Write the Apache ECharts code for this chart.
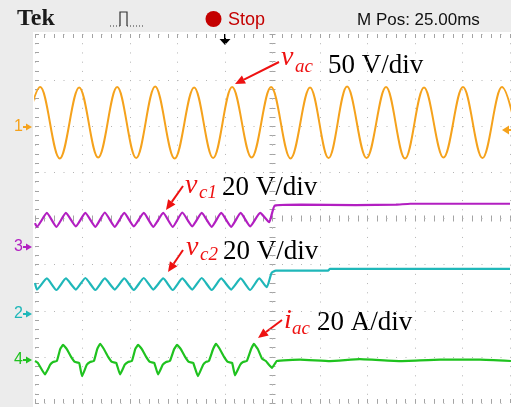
<!DOCTYPE html>
<html>
<head>
<meta charset="utf-8">
<title>Tek capture</title>
<script src="https://cdn.jsdelivr.net/npm/echarts@6/dist/echarts.min.js"></script>
<style>
  html, body { margin: 0; padding: 0; background: #fff; }
  #chart { width: 511px; height: 407px; }
</style>
</head>
<body>
<div id="chart"></div>
<script>
// all values are screen divisions: time from screen centre (-5..5), level from centre (-4..4)

// ch1, v_ac (orange): troughs and peaks
const vacT = [-5.30, -4.89, -4.48, -4.07, -3.67, -3.27, -2.87, -2.47, -2.06, -1.65, -1.25, -0.85, -0.44,
              -0.03, 0.38, 0.79, 1.18, 1.57, 1.98, 2.39, 2.79, 3.19, 3.60, 4.01, 4.42, 4.83, 5.24];
const vacV = [1.31, 2.85, 1.30, 2.84, 1.32, 2.85, 1.31, 2.86, 1.30, 2.84, 1.31, 2.85, 1.32,
              2.85, 1.30, 2.84, 1.31, 2.86, 1.31, 2.85, 1.30, 2.84, 1.32, 2.85, 1.31, 2.85, 1.31];

// ch3, v_c1 (magenta): ripple, then the step at the centre
const vc1T = [-5.00, -4.96, -4.75, -4.55, -4.35, -4.14, -3.94, -3.73, -3.53, -3.32, -3.12, -2.92, -2.71,
              -2.51, -2.30, -2.10, -1.90, -1.69, -1.49, -1.28, -1.08, -0.87, -0.67, -0.47, -0.26, -0.07,
              0.05, 0.60, 1.75, 2.60, 2.90, 5.00];
const vc1V = [-0.10, -0.18, 0.12, -0.18, 0.12, -0.17, 0.12, -0.18, 0.13, -0.18, 0.12, -0.17, 0.12,
              -0.18, 0.12, -0.18, 0.13, -0.17, 0.12, -0.18, 0.12, -0.18, 0.12, -0.17, 0.12, -0.08,
              0.28, 0.30, 0.29, 0.30, 0.32, 0.32];

// ch2, v_c2 (cyan)
const vc2T = [-5.00, -4.96, -4.75, -4.55, -4.35, -4.14, -3.94, -3.73, -3.53, -3.32, -3.12, -2.92, -2.71,
              -2.51, -2.30, -2.10, -1.90, -1.69, -1.49, -1.28, -1.08, -0.87, -0.67, -0.47, -0.28, -0.12,
              -0.02, 0.07, 1.17, 1.21, 5.00];
const vc2V = [-1.40, -1.54, -1.30, -1.55, -1.30, -1.54, -1.29, -1.55, -1.30, -1.54, -1.30, -1.55, -1.29,
              -1.54, -1.30, -1.55, -1.30, -1.54, -1.29, -1.55, -1.30, -1.54, -1.30, -1.55, -1.30, -1.49,
              -1.18, -1.13, -1.13, -1.09, -1.09];

// ch4, i_ac (green)
const iacT = [-5.00, -4.94, -4.79, -4.68, -4.62, -4.54, -4.47, -4.41, -4.33, -4.24, -4.16, -4.07,
              -4.01, -3.91, -3.84, -3.76, -3.69, -3.63, -3.55, -3.46, -3.38, -3.29,
              -3.21, -3.11, -3.04, -2.96, -2.89, -2.83, -2.75, -2.66, -2.58, -2.49,
              -2.41, -2.31, -2.24, -2.16, -2.07, -2.01, -1.93, -1.84, -1.76, -1.67,
              -1.57, -1.46, -1.40, -1.34, -1.25, -1.19, -1.11, -1.02, -0.94, -0.85,
              -0.79, -0.68, -0.62, -0.54, -0.45, -0.39, -0.31, -0.22, -0.14,
              -0.01, 0.09, 0.58, 1.21, 1.84, 2.68, 3.53, 4.37, 5.02];
const iacV = [-3.09, -3.13, -3.38, -3.17, -3.11, -3.09, -2.83, -2.74, -2.83, -3.00, -3.11, -3.13,
              -3.42, -3.17, -3.11, -3.09, -2.83, -2.72, -2.83, -3.00, -3.11, -3.13,
              -3.38, -3.17, -3.11, -3.09, -2.83, -2.74, -2.83, -3.00, -3.11, -3.13,
              -3.38, -3.17, -3.11, -3.09, -2.83, -2.74, -2.83, -3.00, -3.11, -3.13,
              -3.42, -3.17, -3.11, -3.09, -2.83, -2.72, -2.83, -3.00, -3.11, -3.13,
              -3.40, -3.17, -3.11, -3.09, -2.83, -2.72, -2.83, -3.04, -3.09,
              -3.24, -3.09, -3.06, -3.09, -3.05, -3.09, -3.06, -3.06, -3.09];

const zip = (t, v) => t.map((x, i) => [x, v[i]]);

const RED = '#ee1111';
const GRAT = '#a4a4a4';

// little red pointer arrows for the labels
function arrow(x1, y1, x2, y2) {
  const dx = x2 - x1, dy = y2 - y1;
  const len = Math.sqrt(dx * dx + dy * dy);
  const ux = dx / len, uy = dy / len;
  const hl = 10, hw = 4.5;
  const bx = x2 - ux * hl, by = y2 - uy * hl;
  return {
    type: 'group',
    children: [
      { type: 'line', shape: { x1: x1, y1: y1, x2: bx, y2: by }, style: { stroke: RED, lineWidth: 2 } },
      { type: 'polygon', shape: { points: [[x2, y2], [bx - uy * hw, by + ux * hw], [bx + uy * hw, by - ux * hw]] },
        style: { fill: RED } }
    ]
  };
}

function txt(x, y, text, font, fill) {
  return { type: 'text', x: x, y: y, style: { text: text, font: font, fill: fill, verticalAlign: 'middle' } };
}

function chMark(y, label, color) {
  return {
    type: 'group',
    children: [
      txt(14, y, label, '16px "Liberation Sans"', color),
      { type: 'line', shape: { x1: 23, y1: y, x2: 27, y2: y }, style: { stroke: color, lineWidth: 2 } },
      { type: 'polygon', shape: { points: [[26, y - 3.5], [32, y], [26, y + 3.5]] }, style: { fill: color } }
    ]
  };
}

// graticule ruler: axis that only shows major + minor ticks (5 per division)
function ruler(dim, pos, onZero, len) {
  const ax = {
    type: 'value', position: pos, interval: 1,
    min: dim === 'x' ? -5 : -4, max: dim === 'x' ? 5 : 4,
    axisLabel: { show: false }, splitLine: { show: false },
    axisLine: { show: true, onZero: onZero, lineStyle: { color: 'rgba(0,0,0,0)' } },
    axisTick: { show: true, inside: true, length: len, lineStyle: { color: GRAT, width: 1 } },
    minorTick: { show: true, splitNumber: 5, length: len, lineStyle: { color: GRAT, width: 1 } }
  };
  return ax;
}

const serif = '"Liberation Serif", "DejaVu Serif", serif';
const sans = '"Liberation Sans", Arial, sans-serif';

const chart = echarts.init(document.getElementById('chart'));

const xMain = ruler('x', 'bottom', true, 3);
xMain.splitLine = { show: true, lineStyle: { color: '#b4b4b4', width: 1, type: [1, 8.225] } };
const yMain = ruler('y', 'left', true, 3);
yMain.splitLine = { show: true, lineStyle: { color: '#b4b4b4', width: 1, type: [1, 8.5] } };

chart.setOption({
  animation: false,
  backgroundColor: '#ffffff',
  grid: { left: 35, right: 1, top: 34, bottom: 4 },
  xAxis: [
    xMain,
    ruler('x', 'top', false, 4),
    ruler('x', 'bottom', false, 4),
    ruler('x', 'top', true, 3)
  ],
  yAxis: [
    yMain,
    ruler('y', 'left', false, 4),
    ruler('y', 'right', true, 3)
  ],
  series: [
    {
      name: 'vac', type: 'line', data: zip(vacT, vacV), smooth: 0.36,
      showSymbol: false, lineStyle: { color: '#f5a21c', width: 2 }, z: 5
    },
    {
      name: 'vc1', type: 'line', data: zip(vc1T, vc1V), smooth: 0.15,
      showSymbol: false, lineStyle: { color: '#b21fc1', width: 2.2 }, z: 5
    },
    {
      name: 'vc2', type: 'line', data: zip(vc2T, vc2V), smooth: 0.15,
      showSymbol: false, lineStyle: { color: '#1fb7b9', width: 2.2 }, z: 5
    },
    {
      name: 'iac', type: 'line', data: zip(iacT, iacV), smooth: 0.1,
      showSymbol: false, lineStyle: { color: '#1fc21f', width: 2.2 }, z: 5
    }
  ],
  graphic: [
    // scope frame: header bar and left margin
    { type: 'rect', z: -10, shape: { x: 0, y: 0, width: 511, height: 32 }, style: { fill: '#ececec' } },
    { type: 'rect', z: -10, shape: { x: 0, y: 0, width: 33, height: 407 }, style: { fill: '#ececec' } },
    txt(17, 19, 'Tek', 'bold 24px ' + serif, '#1a1a1a'),
    { type: 'polyline', shape: { points: [[120, 26], [120, 12], [127, 12], [127, 26]] },
      style: { stroke: '#333', lineWidth: 1.2, fill: null } },
    { type: 'line', shape: { x1: 110, y1: 26, x2: 120, y2: 26 }, style: { stroke: '#333', lineWidth: 1.2, lineDash: [1, 2] } },
    { type: 'line', shape: { x1: 127, y1: 26, x2: 143, y2: 26 }, style: { stroke: '#333', lineWidth: 1.2, lineDash: [1, 2] } },
    { type: 'circle', shape: { cx: 213.5, cy: 19, r: 8 }, style: { fill: '#c40000' } },
    txt(228, 20, 'Stop', '18px ' + sans, '#c40000'),
    txt(357, 20, 'M Pos: 25.00ms', '17px ' + sans, '#111111'),
    // trigger position marker
    { type: 'line', shape: { x1: 225, y1: 34, x2: 225, y2: 40 }, style: { stroke: '#000', lineWidth: 2 } },
    { type: 'polygon', shape: { points: [[219.5, 39], [230.5, 39], [225, 45]] }, style: { fill: '#000' } },
    // channel ground markers
    chMark(127, '1', '#f5a21c'),
    chMark(247, '3', '#b21fc1'),
    chMark(314, '2', '#1fb7b9'),
    chMark(360, '4', '#1fc21f'),
    // trigger level marker on the right edge
    { type: 'polygon', shape: { points: [[502, 130], [509, 125.5], [509, 134.5]] }, style: { fill: '#f5a21c' } },
    { type: 'line', shape: { x1: 506, y1: 130, x2: 511, y2: 130 }, style: { stroke: '#f5a21c', lineWidth: 2 } },
    // labels
    arrow(279, 62, 235, 84),
    txt(281, 58, 'v', 'italic 28px ' + serif, RED),
    txt(295, 67, 'ac', 'italic 19px ' + serif, RED),
    txt(328, 66, '50 V/div', '27px ' + serif, '#000'),
    arrow(183, 186, 166, 210),
    txt(185, 186, 'v', 'italic 28px ' + serif, RED),
    txt(199, 193, 'c1', 'italic 19px ' + serif, RED),
    txt(222, 188, '20 V/div', '27px ' + serif, '#000'),
    arrow(183, 250, 168, 272),
    txt(186, 248, 'v', 'italic 28px ' + serif, RED),
    txt(200, 255, 'c2', 'italic 19px ' + serif, RED),
    txt(223, 252, '20 V/div', '27px ' + serif, '#000'),
    arrow(282, 320, 258, 338),
    txt(284, 321, 'i', 'italic 28px ' + serif, RED),
    txt(292, 329, 'ac', 'italic 19px ' + serif, RED),
    txt(317, 323, '20 A/div', '27px ' + serif, '#000')
  ]
});
</script>
</body>
</html>
